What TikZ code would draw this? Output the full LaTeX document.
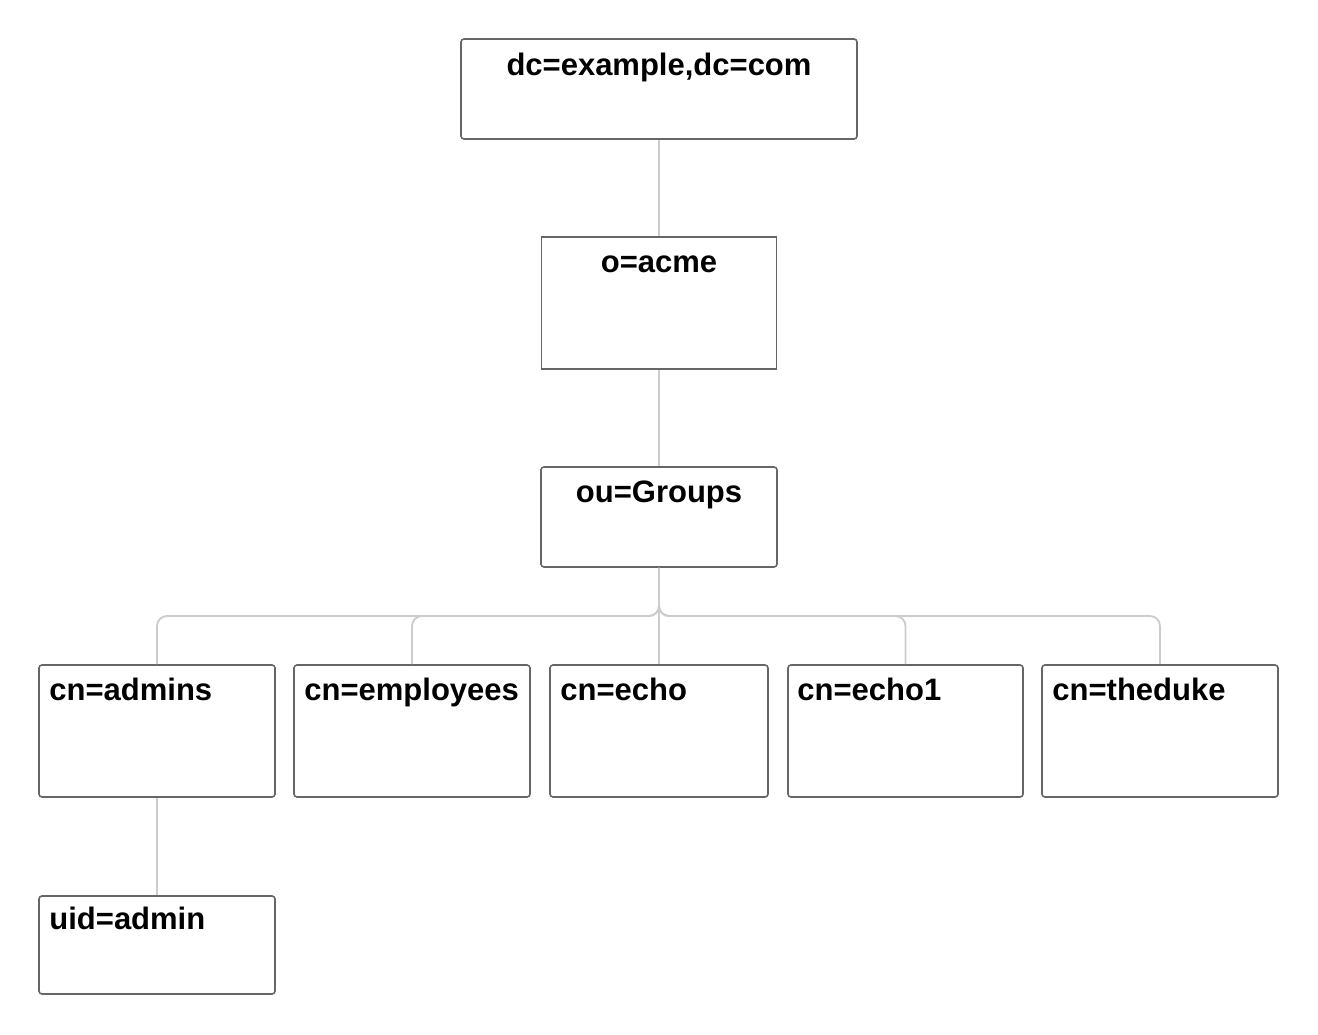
\documentclass[tikz,border=0pt]{standalone}
\usepackage{fontspec}
\setmainfont{Liberation Sans}
\begin{document}
\begin{tikzpicture}[x=1pt,y=-1pt,
  box/.style={draw=boxgray, line width=1.6pt, rounded corners=3pt, fill=white, inner sep=0pt},
  sqbox/.style={box, rounded corners=0pt},
  conn/.style={draw=conngray, line width=1.8pt, rounded corners=10pt},
  lbl/.style={font=\fontsize{31}{36}\selectfont\bfseries, inner sep=0pt, text=black}]
\definecolor{boxgray}{HTML}{666666}
\definecolor{conngray}{HTML}{CCCCCC}
\useasboundingbox (0,0) rectangle (1318,1035);
\coordinate (bus) at (659,616);
% boxes
\node[box, minimum width=396, minimum height=100] (root) at (659,89) {};
\node[sqbox, minimum width=235, minimum height=132] (acme) at (659,303) {};
\node[box, minimum width=236, minimum height=100] (groups) at (659,517) {};
\node[box, minimum width=236, minimum height=132] (admins) at (157,731) {};
\node[box, minimum width=236, minimum height=132] (employees) at (412,731) {};
\node[box, minimum width=218, minimum height=132] (echo) at (659,731) {};
\node[box, minimum width=235, minimum height=132] (echoone) at (905.5,731) {};
\node[box, minimum width=236, minimum height=132] (theduke) at (1160,731) {};
\node[box, minimum width=236, minimum height=98] (uid) at (157,945) {};
% connectors
\draw[conn] (root.south) -- (acme.north);
\draw[conn] (acme.south) -- (groups.north);
\draw[conn] (groups.south) |- (admins.north |- bus) -- (admins.north);
\draw[conn] (groups.south) |- (employees.north |- bus) -- (employees.north);
\draw[conn] (groups.south) -- (echo.north);
\draw[conn] (groups.south) |- (echoone.north |- bus) -- (echoone.north);
\draw[conn] (groups.south) |- (theduke.north |- bus) -- (theduke.north);
\draw[conn] (admins.south) -- (uid.north);
% labels
\node[lbl, anchor=base] (t1) at ([yshift=-37]root.north) {dc=example,dc=com};
\node[lbl, anchor=base] (t2) at ([yshift=-36]acme.north) {o=acme};
\node[lbl, anchor=base] (t3) at ([yshift=-36]groups.north) {ou=Groups};
\node[lbl, anchor=base west] (t4) at ([xshift=11,yshift=-36]admins.north west) {cn=admins};
\node[lbl, anchor=base west] (t5) at ([xshift=11,yshift=-36]employees.north west) {cn=employees};
\node[lbl, anchor=base west] (t6) at ([xshift=11,yshift=-36]echo.north west) {cn=echo};
\node[lbl, anchor=base west] (t7) at ([xshift=10,yshift=-36]echoone.north west) {cn=echo1};
\node[lbl, anchor=base west] (t8) at ([xshift=11,yshift=-36]theduke.north west) {cn=theduke};
\node[lbl, anchor=base west] (t9) at ([xshift=11,yshift=-34]uid.north west) {uid=admin};
\end{tikzpicture}
\end{document}
